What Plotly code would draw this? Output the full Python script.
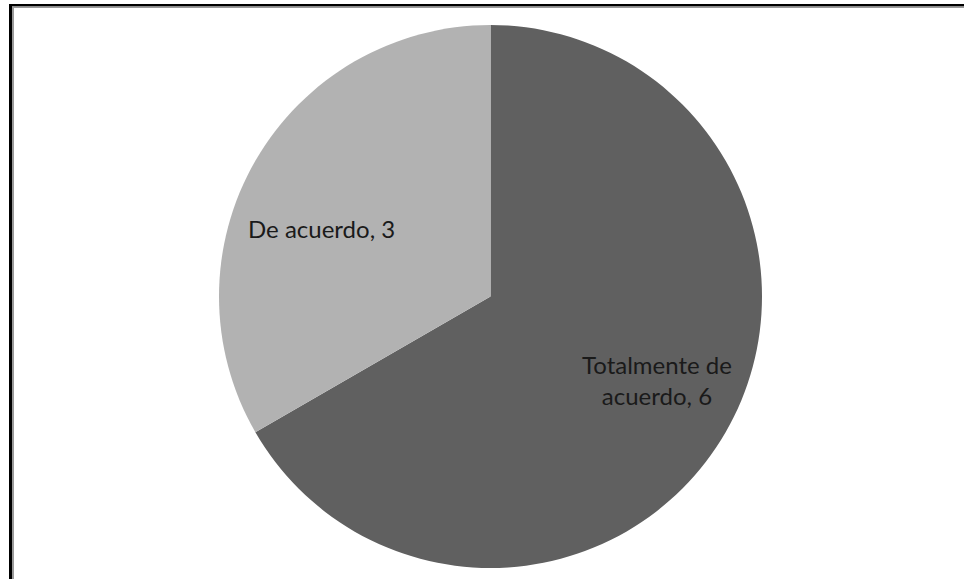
import plotly.graph_objects as go

# Survey answers and counts
labels = ["Totalmente de acuerdo", "De acuerdo"]
values = [6, 3]
colors = ["#606060", "#b2b2b2"]

W, H = 964, 579

# Pie placement in pixels (centre and radius)
cx, cy, r = 490.5, 296.5, 271.5

fig = go.Figure(
    go.Pie(
        labels=labels,
        values=values,
        sort=False,
        direction="clockwise",
        rotation=0,
        marker=dict(colors=colors, line=dict(width=0)),
        textinfo="none",
        hoverinfo="label+value",
        showlegend=False,
        domain=dict(
            x=[(cx - r) / W, (cx + r) / W],
            y=[1 - (cy + r) / H, 1 - (cy - r) / H],
        ),
    )
)

# Data labels "category, value"
label_pos = [(657, 380), (321.5, 228)]
label_text = [
    "Totalmente de<br>acuerdo, " + str(values[0]),
    labels[1] + ", " + str(values[1]),
]
for (px, py), txt in zip(label_pos, label_text):
    fig.add_annotation(
        x=px / W, y=1 - py / H, xref="paper", yref="paper",
        text=txt, showarrow=False, xanchor="center", yanchor="middle",
        font=dict(family="Lato, Open Sans, sans-serif", size=24, color="#1a1a1a"),
        align="center",
    )

# Chart frame: black outer line with a grey inner edge
def px_rect(x0, y0, x1, y1, color):
    fig.add_shape(
        type="rect", xref="paper", yref="paper",
        x0=x0 / W, x1=x1 / W, y0=1 - y1 / H, y1=1 - y0 / H,
        fillcolor=color, line=dict(width=0), layer="above",
    )

px_rect(9, 4, W + 5, 6.5, "#000000")
px_rect(9, 4, 12, H + 5, "#000000")
px_rect(12, 6.5, W + 5, 8, "#9a9a9a")
px_rect(12, 6.5, 14, H + 5, "#9a9a9a")

fig.update_layout(
    width=W, height=H,
    margin=dict(l=0, r=0, t=0, b=0),
    paper_bgcolor="#ffffff",
    plot_bgcolor="#ffffff",
)

fig.write_html("out.html")
